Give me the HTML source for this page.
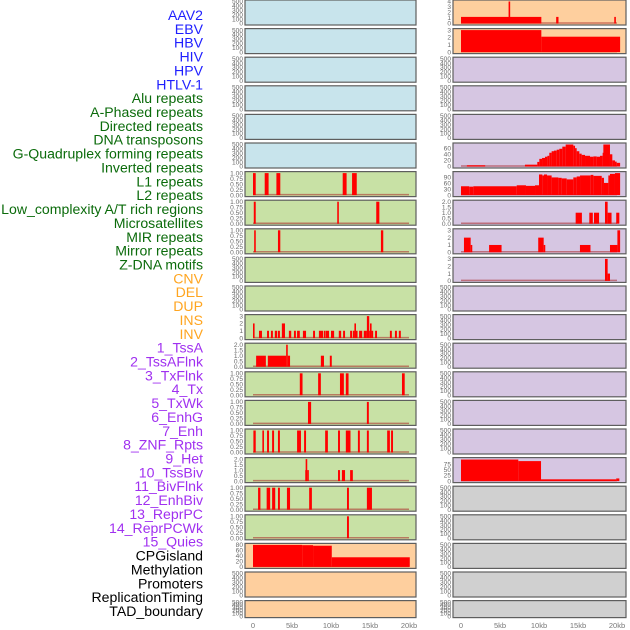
<!DOCTYPE html>
<html><head><meta charset="utf-8"><style>
html,body{margin:0;padding:0;background:#fff;width:630px;height:630px;overflow:hidden}
svg{display:block}
text{font-family:"Liberation Sans",sans-serif}
</style></head><body>
<svg id="chart" width="630" height="630" xmlns="http://www.w3.org/2000/svg"></svg>
<script>
const labels=["AAV2","EBV","HBV","HIV","HPV","HTLV-1","Alu repeats","A-Phased repeats","Directed repeats","DNA transposons","G-Quadruplex forming repeats","Inverted repeats","L1 repeats","L2 repeats","Low_complexity A/T rich regions","Microsatellites","MIR repeats","Mirror repeats","Z-DNA motifs","CNV","DEL","DUP","INS","INV","1_TssA","2_TssAFlnk","3_TxFlnk","4_Tx","5_TxWk","6_EnhG","7_Enh","8_ZNF_Rpts","9_Het","10_TssBiv","11_BivFlnk","12_EnhBiv","13_ReprPC","14_ReprPCWk","15_Quies","CPGisland","Methylation","Promoters","ReplicationTiming","TAD_boundary"];
const labelGroups=[6,13,5,15,5];
const groupColors=["#1f1fff","#0b6b0b","#ffa520","#a030f0","#000000"];
const xTicks=[0,5,10,15,20];
const xTickLabels=["0","5kb","10kb","15kb","20kb"];
const ticksEmpty=[0,100,200,300,400,500];
const ticksBin=[0,0.25,0.5,0.75,1];
const ticks3=[0,1,2,3];
const ticks4=[0,1,2,3,4];
const ticks2=[0,0.5,1,1.5,2];
const ticksCpg=[0,20,40,60,80];
const ticksGq=[0,20,40,60];
const ticksL1=[0,30,60,90];
const ticks75=[0,25,50,75];
// left column bars [startKb,endKb,value]
const L1bars=[[0,0.35,1],[1.5,2.0,1],[3.0,3.5,1],[11.5,12.0,1],[12.7,13.3,1]];
const L7bars=[[0.1,0.35,1],[10.8,11.0,1],[15.8,16.2,1]];
const L8bars=[[0.15,0.35,1],[3.2,3.5,1],[16.4,16.7,1]];
const insBars=[[0,0.2,2],[0.77,1.15,1],[1.8,2.05,1],[2.3,2.55,1],[2.8,3.1,1],[3.2,3.45,1],[3.7,4.1,2],[4.6,4.9,1],[5.25,5.5,1],[5.65,6.0,1],[6.4,6.8,1],[7.7,7.95,1],[8.45,9.0,1],[9.1,9.25,1],[9.35,9.75,1],[10.0,10.4,1],[11.0,11.3,1],[11.55,11.8,1],[12.45,12.7,1],[12.8,13.0,1],[13.0,13.2,2],[13.2,13.35,1],[13.6,14.0,1],[14.2,14.6,1],[14.6,14.9,3],[14.9,15.0,1],[15.0,15.2,2],[15.2,15.4,1],[15.65,15.9,1],[17.55,17.8,1],[18.2,18.45,1],[18.7,18.95,1]];
const r12bars=[[0.4,1.65,1],[1.9,4.25,1],[4.25,4.45,2],[4.45,4.75,1],[8.7,9.1,1],[9.85,10.1,1]];
const r13bars=[[6.0,6.35,1],[8.35,8.7,1],[11.15,11.65,1],[11.9,12.25,1],[19.1,19.45,1]];
const r14bars=[[7.05,7.45,1],[14.6,14.85,1]];
const r15bars=[[0.05,0.35,1],[1.2,1.4,1],[1.8,2.05,1],[2.45,2.7,1],[3.2,3.45,1],[5.65,6.15,1],[6.55,6.8,1],[9.25,9.6,1],[10.9,11.15,1],[11.9,12.5,1],[13.45,13.7,1],[14.6,14.85,1],[17.2,17.55,1],[17.7,17.95,1]];
const r16bars=[[6.7,6.75,1],[6.75,6.95,2],[6.95,7.0,1],[10.9,11.15,1],[11.4,11.8,1],[12.45,12.8,1]];
const r17bars=[[0.65,0.95,1],[1.75,2.2,1],[2.45,2.85,1],[3.2,3.45,1],[4.35,4.75,1],[7.2,7.55,1],[12.05,12.3,1],[14.6,15.25,1]];
const r18bars=[[12.05,12.3,1]];
const cpgBars=[[0,6.3,80],[6.3,7.7,79],[7.7,10.1,77],[10.1,20.1,35]];
// right column
const aavBars=[[0,10.3,1.2],[6.1,6.3,4],[12.2,12.5,1.2],[19.65,19.85,1.2]];
const ebvBars=[[0,10.3,3],[10.3,20.4,2.1]];
const gqStarts=[0.75,3.1,8.2,9.78,10.04,10.39,10.77,11.07,11.32,11.62,11.92,12.27,12.6,12.99,13.42,14.4,14.62,14.83,15.17,15.47,15.9,16.54,16.97,17.4,17.82,18.16,18.25,19.1,19.4,19.74,19.96];
const gqValues=[4,0,6,15,25,28,32,35,45,50,52,55,58,65,72,68,60,50,42,38,35,32,33,32,35,45,72,40,20,16,12];
const l1Starts=[0,1.05,1.58,7.14,8.33,9.49,10.0,10.43,10.64,11.03,11.62,12.48,12.91,13.55,14.4,14.83,15.26,16.63,16.97,18.04,18.33,18.89,19.1,19.74];
const l1Values=[45,43,45,50,47,50,105,100,105,100,90,88,85,80,90,95,100,103,98,88,62,100,108,112];
const lowBars=[[14.7,15.5,1],[16.45,16.9,1],[17.05,17.7,1],[18.46,18.8,2],[18.8,19.3,1],[19.9,20.3,1]];
const mirBars=[[0.38,1.24,2],[1.24,1.4,1],[3.6,5.2,1],[9.9,10.6,2],[10.6,10.75,1],[15.25,16.6,1],[19.1,20.05,1],[20.05,20.4,3]];
const mirrorBars=[[18.46,18.8,3],[18.8,19.1,1]];
const r16rBars=[[0,7.35,97],[7.35,10.26,90],[10.26,19.9,8],[19.9,20.3,12]];

function steps(starts,vals,end){const o=[];for(let i=0;i<starts.length;i++)o.push([starts[i],i+1<starts.length?starts[i+1]:end,vals[i]]);return o;}

const BLUE="#c8e4ec",GREEN="#c8e1a5",ORANGE="#fecf9e",PURPLE="#d6c6e2",GRAY="#d0d0d0";
const leftPanels=[];const rightPanels=[];
for(let r=0;r<22;r++){
  leftPanels.push({bg:r<6?BLUE:(r<19?GREEN:ORANGE),ticks:ticksEmpty,ymax:500,bars:null,fmt:0});
  rightPanels.push({bg:r<2?ORANGE:(r<17?PURPLE:GRAY),ticks:ticksEmpty,ymax:500,bars:null,fmt:0});
}
function setP(p,t,ym,b,f){p.ticks=t;p.ymax=ym;p.bars=b;p.fmt=f;}
setP(leftPanels[6],ticksBin,1,L1bars,2);
setP(leftPanels[7],ticksBin,1,L7bars,2);
setP(leftPanels[8],ticksBin,1,L8bars,2);
setP(leftPanels[11],ticks3,3,insBars,0);
setP(leftPanels[12],ticks2,2,r12bars,1);
setP(leftPanels[13],ticksBin,1,r13bars,2);
setP(leftPanels[14],ticksBin,1,r14bars,2);
setP(leftPanels[15],ticksBin,1,r15bars,2);
setP(leftPanels[16],ticks2,2,r16bars,1);
setP(leftPanels[17],ticksBin,1,r17bars,2);
setP(leftPanels[18],ticksBin,1,r18bars,2);
setP(leftPanels[19],ticksCpg,80,cpgBars,0);
setP(rightPanels[0],ticks4,4,aavBars,0);
setP(rightPanels[1],ticks3,3,ebvBars,0);
setP(rightPanels[5],ticksGq,72,steps(gqStarts,gqValues,20.4),0);
setP(rightPanels[6],ticksL1,112,steps(l1Starts,l1Values,20.4),0);
setP(rightPanels[7],ticks2,2,lowBars,1);
setP(rightPanels[8],ticks3,3,mirBars,0);
setP(rightPanels[9],ticks3,3,mirrorBars,0);
setP(rightPanels[16],ticks75,99,r16rBars,0);

const NS="http://www.w3.org/2000/svg";
const svg=document.getElementById("chart");
function mk(tag,attrs,parent){const e=document.createElementNS(NS,tag);for(const k in attrs)e.setAttribute(k,attrs[k]);(parent||svg).appendChild(e);return e;}

// labels
let li=0;
labelGroups.forEach((n,g)=>{for(let k=0;k<n;k++){
  const t=mk("text",{x:203,y:15+li*13.86+5,"text-anchor":"end","font-size":"14.1",fill:groupColors[g]});
  
  
  t.textContent=labels[li];li++;}});

const cols=[{x0:245,x1:416,px0:253,px1:409,panels:leftPanels,name:"left"},{x0:453,x1:626,px0:461,px1:617,panels:rightPanels,name:"right"}];
cols.forEach(c=>{
  const xs=kb=>c.px0+(kb/20)*(c.px1-c.px0);
  c.panels.forEach((p,r)=>{
    const top=r*28.6, h=(r===21?17:25);
    const g=mk("g",{});
    
    
    const rect=mk("rect",{x:c.x0,y:top,width:c.x1-c.x0,height:h,fill:p.bg,stroke:"#5e5e5e","stroke-width":1.2},g);
    
    
    const bot=top+h-1.5, span=h-3;
    const ys=v=>bot-(v/p.ymax)*span;
    p.ticks.forEach(tv=>{
      const t=mk("text",{x:c.x0-2,y:ys(tv)+2.2,"text-anchor":"end","font-size":"6.6",fill:"#6a6a6a"},g);
      
      
      t.textContent=tv.toFixed(p.fmt);
    });
    if(p.bars){
      const bl=mk("line",{x1:xs(0),x2:xs(20),y1:bot-0.5,y2:bot-0.5,stroke:"rgba(170,40,40,0.55)","stroke-width":1.5},g);
      
      
      p.bars.forEach(b=>{
        const x=xs(Math.max(b[0],-0.1)), w=Math.max(xs(b[1])-x,1.6), y=ys(b[2]);
        const br=mk("rect",{x:x,y:Math.max(y,top+0.6),width:w,height:bot-Math.max(y,top+0.6),fill:"#ff0000"},g);
        
        
      });
    }
  });
  xTicks.forEach((kb,i)=>{
    const t=mk("text",{x:xs(kb),y:628,"text-anchor":"middle","font-size":"7.5",fill:"#777"});
    
    
    t.textContent=xTickLabels[i];
  });
});
</script>
</body></html>
